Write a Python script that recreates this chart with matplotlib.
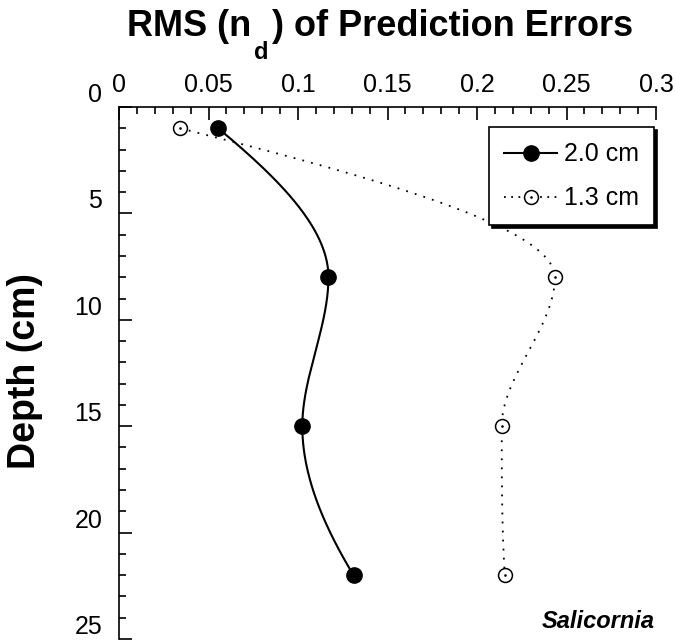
import numpy as np
import matplotlib
matplotlib.use("Agg")
import matplotlib.pyplot as plt
from matplotlib.path import Path
from matplotlib.ticker import MultipleLocator

plt.rcParams['font.family'] = ['Liberation Sans', 'DejaVu Sans']

##### Data #####
depth = [1, 8, 15, 22]
rms_20cm = [0.0554, 0.117, 0.1024, 0.131]
rms_13cm = [0.0341, 0.2435, 0.2138, 0.2155]
labels = ['2.0 cm', '1.3 cm']
xticks = [0, 0.05, 0.1, 0.15, 0.2, 0.25, 0.3]
xticklabels = ['0', '0.05', '0.1', '0.15', '0.2', '0.25', '0.3']
yticks = [0, 5, 10, 15, 20, 25]


def smooth(y, x, n=300):
    # shape preserving cubic (pchip) of x against depth, only for the drawn line
    y = np.asarray(y, float)
    x = np.asarray(x, float)
    h = np.diff(y)
    d = np.diff(x) / h
    m = np.zeros(len(y))
    for k in range(1, len(y) - 1):
        if d[k - 1] * d[k] > 0:
            w1 = 2 * h[k] + h[k - 1]
            w2 = h[k] + 2 * h[k - 1]
            m[k] = (w1 + w2) / (w1 / d[k - 1] + w2 / d[k])

    def end(h0, h1, d0, d1):
        s = ((2 * h0 + h1) * d0 - h0 * d1) / (h0 + h1)
        if np.sign(s) != np.sign(d0):
            s = 0
        elif np.sign(d0) != np.sign(d1) and abs(s) > abs(3 * d0):
            s = 3 * d0
        return s
    m[0] = end(h[0], h[1], d[0], d[1])
    m[-1] = end(h[-1], h[-2], d[-1], d[-2])

    yy = np.linspace(y[0], y[-1], n)
    k = np.clip(np.searchsorted(y, yy) - 1, 0, len(y) - 2)
    t = (yy - y[k]) / h[k]
    xx = (2 * t**3 - 3 * t**2 + 1) * x[k] + (t**3 - 2 * t**2 + t) * h[k] * m[k] \
        + (-2 * t**3 + 3 * t**2) * x[k + 1] + (t**3 - t**2) * h[k] * m[k + 1]
    return xx, yy


# open circle with a dot in the middle
dot_circle = Path.make_compound_path(Path.unit_circle(), Path.circle(radius=0.08))

fig = plt.figure(figsize=(6.75, 6.43), dpi=100)
ax = fig.add_axes([0.1763, 0.0062, 0.7956, 0.8274])

# 2.0 cm - solid line, filled circles
sx, sy = smooth(depth, rms_20cm)
ax.plot(sx, sy, color='black', lw=1.5)
ax.plot(rms_20cm, depth, 'o', color='black', ms=11)

# 1.3 cm - dotted line, open circles
sx, sy = smooth(depth, rms_13cm)
ax.plot(sx, sy, color='black', lw=1.3, ls=(0, (1, 4)))
ax.plot(rms_13cm, depth, ls='none', marker=dot_circle, mfc='white', mec='black',
        mew=1.1, ms=10)

h1 = plt.Line2D([], [], color='black', lw=1.5, marker='o', ms=11)
h2 = plt.Line2D([], [], color='black', lw=1.3, ls=(0, (1, 3)), marker=dot_circle,
                mfc='white', mec='black', mew=1.1, ms=10)
leg = ax.legend([h1, h2], labels, loc='upper right', bbox_to_anchor=(1.02, 0.985),
                fontsize=18, fancybox=False, shadow={'color': 'black', 'alpha': 1},
                framealpha=1, edgecolor='black', handlelength=2.1,
                labelspacing=0.8, borderpad=0.6, handletextpad=0.3)
leg.get_frame().set_linewidth(1.2)

ax.set_xlim(0, 0.3)
ax.set_ylim(25, 0)
ax.set_xticks(xticks)
ax.set_xticklabels(xticklabels)
ax.set_yticks(yticks)
ax.set_yticklabels([str(v) for v in yticks])
ax.xaxis.set_minor_locator(MultipleLocator(0.01))
ax.yaxis.set_minor_locator(MultipleLocator(1))
ax.xaxis.tick_top()
for lab in ax.get_yticklabels():
    lab.set_verticalalignment('bottom')
ax.spines['right'].set_visible(False)
ax.spines['bottom'].set_visible(False)
for s in ['top', 'left']:
    ax.spines[s].set_linewidth(1.2)
ax.tick_params(which='both', direction='in', width=1.2, labelsize=18)
ax.tick_params(which='major', length=9)
ax.tick_params(which='minor', length=5)
ax.tick_params(axis='x', pad=7)
ax.tick_params(axis='y', pad=12)

ax.text(0.998, 0.012, 'Salicornia', transform=ax.transAxes, ha='right', va='bottom',
        fontsize=17, fontweight='bold', fontstyle='italic')

# title with a dropped subscript, pieces placed side by side (pixel positions)
W, H = 675, 643
r = fig.canvas.get_renderer()
pieces = [('RMS (n', 26, 0), ('d', 17, -23), (') of Prediction Errors', 26, 0)]
texts = []
for s, fs, dy in pieces:
    t = fig.text(0, 0, s, fontsize=fs, fontweight='bold', ha='left', va='baseline')
    texts.append((t, dy, t.get_window_extent(r).width))
gap = 3
total = sum(w for _, _, w in texts) + gap * (len(texts) - 1)
x0 = 380 - total / 2
base = H - 36
for t, dy, w in texts:
    t.set_position((x0 / W, (base + dy) / H))
    x0 += w + gap

fig.text(0.037, 0.423, 'Depth (cm)', rotation=90, ha='center', va='center',
         fontsize=27, fontweight='bold')

fig.savefig('out.png', dpi=100)
